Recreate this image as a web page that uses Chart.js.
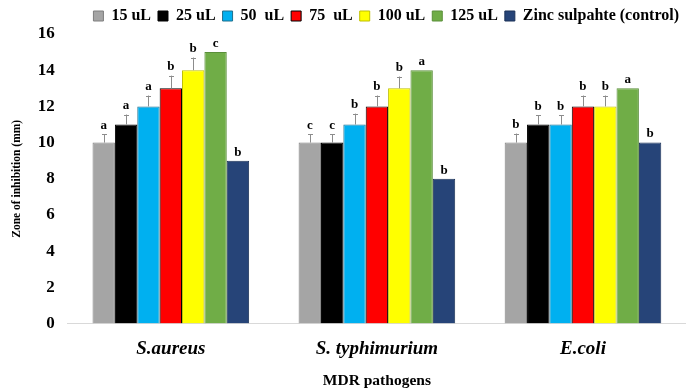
<!DOCTYPE html>
<html>
<head>
<meta charset="utf-8">
<script src="https://cdn.jsdelivr.net/npm/chart.js@4.4.1/dist/chart.umd.min.js"></script>
<style>
  html, body { margin: 0; padding: 0; background: #fff; overflow: hidden; }
  #wrap { width: 686px; height: 390px; }
</style>
</head>
<body>
<div id="wrap"><canvas id="zoneChart"></canvas></div>
<script>
// ---------- data ----------
var pathogens = ["S.aureus", "S. typhimurium", "E.coli"];
var seriesNames = ["15 uL", "25 uL", "50  uL", "75  uL", "100 uL", "125 uL", "Zinc sulpahte (control)"];

var v15  = [10, 10, 10];
var v25  = [11, 10, 11];
var v50  = [12, 11, 11];
var v75  = [13, 12, 12];
var v100 = [14, 13, 12];
var v125 = [15, 14, 13];
var vZn  = [9, 8, 10];

var e15  = [0.45, 0.45, 0.5];
var e25  = [0.55, 0.45, 0.5];
var e50  = [0.6, 0.6, 0.5];
var e75  = [0.7, 0.6, 0.6];
var e100 = [0.7, 0.65, 0.6];
var e125 = [0, 0, 0];
var eZn  = [0, 0, 0];

var l15  = ["a", "c", "b"];
var l25  = ["a", "c", "b"];
var l50  = ["a", "b", "b"];
var l75  = ["b", "b", "b"];
var l100 = ["b", "b", "b"];
var l125 = ["c", "a", "a"];
var lZn  = ["b", "b", "b"];

var yTicks = [0, 2, 4, 6, 8, 10, 12, 14, 16];

// ---------- styling ----------
var fills   = ["#A5A5A5", "#000000", "#00B0F0", "#FF0000", "#FFFF00", "#70AD47", "#264478"];
var borders = ["#7F7F7F", "#000000", "#1F6E8C", "#000000", "#BFBF00", "#5A8F3A", "#1B3157"];
var values  = [v15, v25, v50, v75, v100, v125, vZn];
var errors  = [e15, e25, e50, e75, e100, e125, eZn];
var letters = [l15, l25, l50, l75, l100, l125, lZn];

var datasets = seriesNames.map(function(name, i){
	return {
		label: name,
		data: values[i],
		backgroundColor: fills[i],
		borderColor: borders[i],
		borderWidth: 1,
		errs: errors[i],
		letters: letters[i],
		barPercentage: 1.0,
		categoryPercentage: 0.76
	};
});

// error bars + significance letters
var errorBars = {
	id: 'errorBars',
	afterDatasetsDraw: function(chart){
		var ctx = chart.ctx;
		var y = chart.scales.y;
		ctx.save();
		chart.data.datasets.forEach(function(ds, i){
			var meta = chart.getDatasetMeta(i);
			meta.data.forEach(function(bar, j){
				var v = ds.data[j];
				var e = ds.errs[j];
				var top = y.getPixelForValue(v + e);
				if (e > 0) {
					ctx.strokeStyle = '#8C8C8C';
					ctx.lineWidth = 1;
					ctx.beginPath();
					ctx.moveTo(Math.round(bar.x) + 0.5, bar.y);
					ctx.lineTo(Math.round(bar.x) + 0.5, top);
					ctx.moveTo(Math.round(bar.x) - 2, Math.round(top) + 0.5);
					ctx.lineTo(Math.round(bar.x) + 3, Math.round(top) + 0.5);
					ctx.stroke();
				}
				ctx.fillStyle = '#000';
				ctx.font = 'bold 13px "Liberation Serif"';
				ctx.textAlign = 'center';
				ctx.textBaseline = 'bottom';
				ctx.fillText(ds.letters[j], bar.x, top - 2);
			});
		});
		ctx.restore();
	}
};

var ctx = document.getElementById("zoneChart").getContext('2d');
var myChart = new Chart(ctx, {
	type: 'bar',
	data: {
		labels: pathogens,
		datasets: datasets
	},
	plugins: [errorBars],
	options: {
		responsive: true,
		maintainAspectRatio: false,
		animation: false,
		layout: { padding: { left: 6, right: 0, top: 1, bottom: 0 } },
		plugins: {
			tooltip: { enabled: false },
			legend: {
				display: true,
				position: 'top',
				align: 'end',
				labels: {
					boxWidth: 10,
					boxHeight: 10,
					padding: 7,
					color: '#000',
					font: { family: 'Liberation Serif', size: 16, weight: 'bold' }
				}
			}
		},
		scales: {
			x: {
				grid: { display: false, drawTicks: false },
				border: { display: true, color: '#D9D9D9', width: 1 },
				ticks: {
					color: '#000',
					padding: 14,
					font: { family: 'Liberation Serif', size: 19, weight: 'bold', style: 'italic' }
				},
				title: {
					display: true,
					text: 'MDR pathogens',
					color: '#000',
					padding: { top: -3, bottom: 0 },
					font: { family: 'Liberation Serif', size: 15.5, weight: 'bold' }
				}
			},
			y: {
				min: 0,
				max: 16,
				grid: { display: false, drawTicks: false },
				border: { display: false },
				afterBuildTicks: function(axis){
					axis.ticks = yTicks.map(function(t){ return { value: t }; });
				},
				ticks: {
					color: '#000',
					padding: 13,
					font: { family: 'Liberation Serif', size: 17, weight: 'bold' }
				},
				title: {
					display: true,
					text: 'Zone of inhibition (mm)',
					color: '#000',
					padding: { top: 4, bottom: 1 },
					font: { family: 'Liberation Serif', size: 11.5, weight: 'bold' }
				}
			}
		}
	}
});
</script>
</body>
</html>
